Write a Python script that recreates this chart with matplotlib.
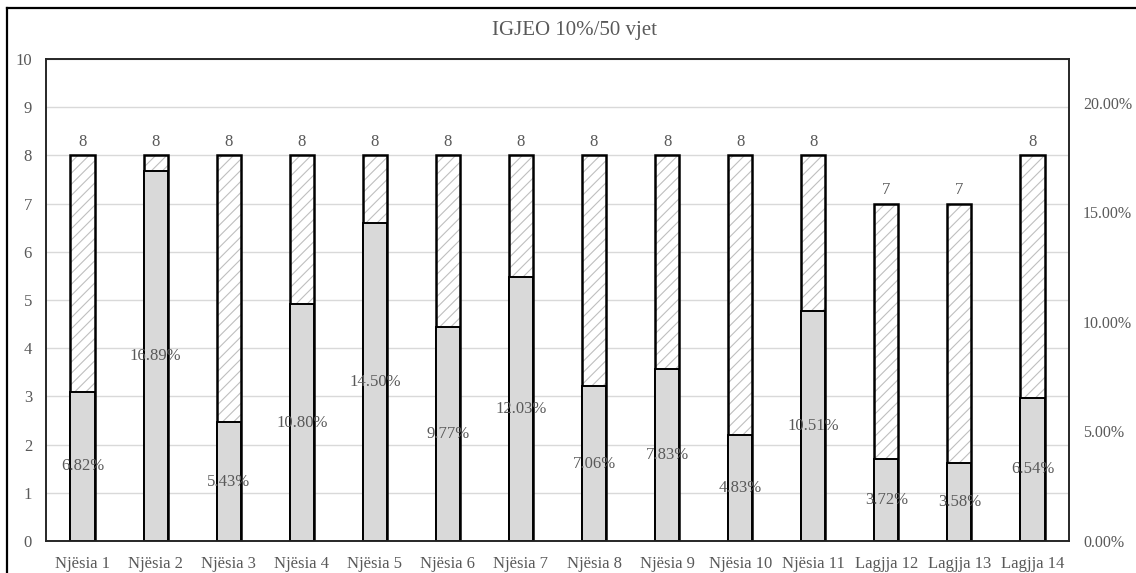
import matplotlib
matplotlib.use("Agg")
import matplotlib.pyplot as plt
from matplotlib.lines import Line2D
from matplotlib.ticker import FuncFormatter

# Data
units = ["Njësia 1", "Njësia 2", "Njësia 3", "Njësia 4", "Njësia 5", "Njësia 6",
         "Njësia 7", "Njësia 8", "Njësia 9", "Njësia 10", "Njësia 11",
         "Lagjja 12", "Lagjja 13", "Lagjja 14"]
counts = [8, 8, 8, 8, 8, 8, 8, 8, 8, 8, 8, 7, 7, 8]
shares = [6.82, 16.89, 5.43, 10.80, 14.50, 9.77, 12.03, 7.06, 7.83, 4.83,
          10.51, 3.72, 3.58, 6.54]
title = "IGJEO 10%/50 vjet"

TXT = "#595959"
FONT = "Liberation Serif"
plt.rcParams["font.family"] = [FONT, "DejaVu Serif"]
plt.rcParams["hatch.linewidth"] = 0.8

fig = plt.figure(figsize=(11.36, 5.73), dpi=100)
ax = fig.add_axes([46 / 1136, 1 - 541 / 573, (1069 - 46) / 1136, (541 - 59) / 573])
ax2 = ax.twinx()

x = list(range(len(units)))
w = 0.33

# Left axis: counts as hatched bars
ax.set_ylim(0, 10)
ax.set_xlim(-0.5, len(units) - 0.5)
ax.set_yticks(range(0, 11))
ax.yaxis.grid(True, color="#d9d9d9", linewidth=1.0)
ax.set_axisbelow(True)
ax.bar(x, counts, width=w, color="white", edgecolor="#bfbfbf", hatch="///",
       linewidth=0, zorder=2)
outline = ax.bar(x, counts, width=w, fill=False, edgecolor="black",
                 linewidth=1.8, zorder=3)
ax.bar_label(outline, labels=[str(c) for c in counts], padding=4,
             color=TXT, fontsize=12)

# Right axis: shares as grey bars
ax2.set_ylim(0, 22)
ax2.set_yticks([0, 5, 10, 15, 20])
ax2.yaxis.set_major_formatter(FuncFormatter(lambda v, p: f"{v:.2f}%"))
ax2.bar(x, shares, width=w, color="#d9d9d9", edgecolor="black", linewidth=1.4,
        zorder=2)
for xi, v in zip(x, shares):
    ax2.text(xi, v / 2, f"{v:.2f}%", ha="center", va="center", color=TXT,
             fontsize=12)

ax.set_xticks(x)
ax.set_xticklabels(units)
for a in (ax, ax2):
    a.tick_params(length=0, colors=TXT, labelsize=12)
    for s in a.spines.values():
        s.set_color("#262626")
        s.set_linewidth(1.2)
ax.tick_params(axis="y", pad=10)
ax2.tick_params(axis="y", pad=10, labelsize=11.5)
ax.tick_params(axis="x", pad=11)

fig.text(575 / 1136, 1 - 31 / 573, title, ha="center", va="center",
         color=TXT, fontsize=15)

# Outer frame (top and left edges)
fig.add_artist(Line2D([7 / 1136, 1.01], [1 - 8 / 573] * 2, color="black",
                      linewidth=1.6, transform=fig.transFigure))
fig.add_artist(Line2D([7 / 1136] * 2, [-0.01, 1 - 8 / 573], color="black",
                      linewidth=1.6, transform=fig.transFigure))

fig.savefig("out.png", dpi=100, facecolor="white")
